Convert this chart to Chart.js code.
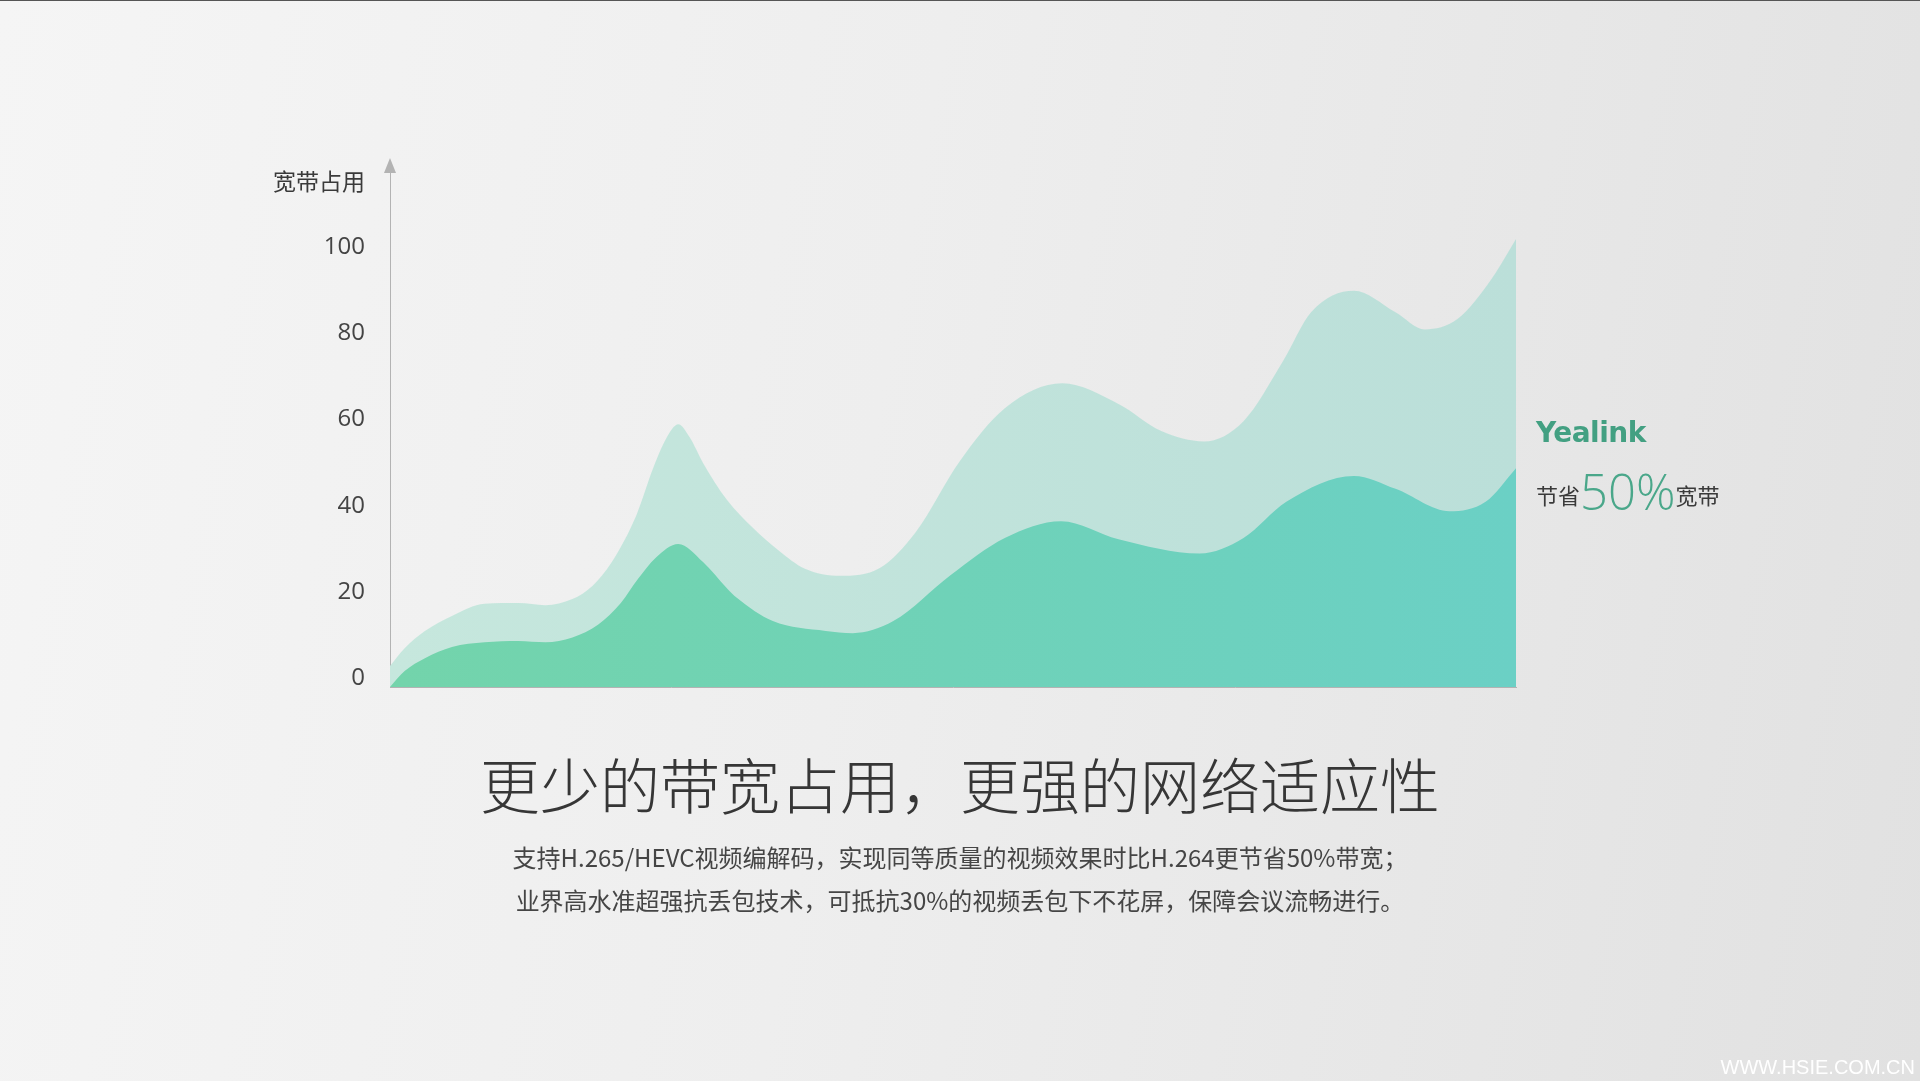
<!DOCTYPE html>
<html>
<head>
<meta charset="utf-8">
<script src="https://cdn.jsdelivr.net/npm/chart.js@4/dist/chart.umd.min.js"></script>
<style>
    html, body { margin: 0; padding: 0; }
    body {
        width: 1920px; height: 1081px; overflow: hidden; position: relative;
        background: linear-gradient(100deg, #f5f5f5 0%, #eeeeee 45%, #e1e1e1 100%);
        font-family: "Noto Sans CJK SC", "Noto Sans", sans-serif;
        border-top: 1px solid #555; box-sizing: border-box;
    }
    #wrap { position: absolute; left: 0; top: 0; width: 1920px; height: 1081px; }
    .txt { position: absolute; white-space: nowrap; }
    #ytitle { right: 1555px; top: 162px; font-size: 23px; color: #3a3a3a; }
    #title { left: 0; width: 1920px; text-align: center; top: 738px; font-size: 60px; font-weight: 300; color: #363636; }
    .sub { left: 0; width: 1920px; text-align: center; font-size: 24px; color: #454545; }
    #logo { left: 1536px; top: 415px; font-family: "DejaVu Sans", sans-serif; font-weight: bold; font-size: 28px; color: #43a082; letter-spacing: -0.5px; }
    #save { left: 1536px; top: 457px; font-size: 22px; color: #3a3a3a; }
    #save b { font-family: "Open Sans", sans-serif; font-weight: 300; font-size: 49px; color: #4aa78a; vertical-align: -6px; }
    #wm { right: 5px; top: 1055px; font-family: "Liberation Sans", Arial, sans-serif; font-size: 20px; color: #ffffff; }
</style>
</head>
<body>
<div id="wrap"><canvas id="bande" width="1920" height="1081"></canvas></div>
<div class="txt" id="ytitle">宽带占用</div>
<div class="txt" id="logo">Yealink</div>
<div class="txt" id="save">节省<b>50%</b>宽带</div>
<div class="txt" id="title">更少的带宽占用，更强的网络适应性</div>
<div class="txt sub" style="top:838px">支持H.265/HEVC视频编解码，实现同等质量的视频效果时比H.264更节省50%带宽；</div>
<div class="txt sub" style="top:881px">业界高水准超强抗丢包技术，可抵抗30%的视频丢包下不花屏，保障会议流畅进行。</div>
<div class="txt" id="wm">WWW.HSIE.COM.CN</div>
<script>
// position le long de l'axe (0 -> 100) et valeurs
const upperX = [0, 1.3, 3.1, 5.5, 8.4, 11.4, 13.8, 16.2, 18, 19.7, 21.9, 23.4, 24.7, 25.6, 26.6, 27.8, 29.9, 32.2, 34.6, 36.8, 40, 43.5, 46.7, 50.6, 54.6, 59.7, 64.7, 68.5, 72.3, 75.8, 79.3, 81.8, 85.6, 89.3, 91.9, 94.8, 97.9, 100];
const upperY = [4.9, 9, 13, 16.5, 19.3, 19.5, 19, 20.4, 23.5, 29, 40, 51, 58.5, 61, 58, 52, 43.5, 37, 31.5, 27.5, 25.8, 27.6, 36, 52.4, 64.7, 70.5, 65.7, 59.4, 57, 61.7, 75.6, 87, 92, 87, 83, 85.4, 95, 104];

const lowerX = [0, 1.3, 3.1, 5.5, 8.4, 11.4, 13.8, 16.2, 18.5, 20.5, 22, 23.6, 25.6, 27.8, 29.9, 30.8, 34, 38.7, 41.1, 44.7, 49.8, 54.6, 59.6, 64.7, 71.9, 75.8, 79.6, 85.6, 89.3, 94.1, 97.3, 100];
const lowerY = [0, 3.7, 6.7, 9.3, 10.4, 10.7, 10.4, 11.5, 14.5, 19.5, 25, 30, 33.2, 29, 23, 20.7, 15.3, 13, 12.5, 15.3, 26, 34.6, 38.5, 34.3, 31, 34.6, 43, 49, 46, 40.8, 43, 50.8];

const yTicks = [0, 20, 40, 60, 80, 100];

function toPoints(xs, ys) {
    return xs.map((x, i) => ({ x: x, y: ys[i] }));
}

// dégradé horizontal sur la zone du graphique
function horizGradient(ctx, c1, c2) {
    const area = ctx.chart.chartArea;
    if (!area) return c1;
    const g = ctx.chart.ctx.createLinearGradient(area.left, 0, area.right, 0);
    g.addColorStop(0, c1);
    g.addColorStop(1, c2);
    return g;
}

// petite flèche en haut de l'axe vertical
const axisArrow = {
    id: 'axisArrow',
    afterDraw(chart) {
        const c = chart.ctx;
        const x = chart.chartArea.left;
        const top = chart.chartArea.top;
        c.save();
        c.fillStyle = '#b3b3b3';
        c.beginPath();
        c.moveTo(x, top - 12);
        c.lineTo(x - 6, top + 3);
        c.lineTo(x + 6, top + 3);
        c.closePath();
        c.fill();
        c.restore();
    }
};

new Chart(
    document.getElementById('bande'),
    {
        type: 'line',
        data: {
            datasets: [
                {
                    label: 'Yealink',
                    data: toPoints(lowerX, lowerY),
                    fill: 'origin',
                    backgroundColor: ctx => horizGradient(ctx, '#73d4ab', '#6bd0c5'),
                    borderWidth: 0,
                    pointRadius: 0,
                    cubicInterpolationMode: 'monotone'
                },
                {
                    label: 'H.264',
                    data: toPoints(upperX, upperY),
                    fill: 'origin',
                    backgroundColor: ctx => horizGradient(ctx, '#c6e7dd', '#bbdfd9'),
                    borderWidth: 0,
                    pointRadius: 0,
                    cubicInterpolationMode: 'monotone'
                }
            ]
        },
        plugins: [axisArrow],
        options: {
            responsive: false,
            animation: false,
            layout: {
                padding: { left: 290, right: 404, top: 169, bottom: 395 }
            },
            plugins: {
                legend: { display: false },
                tooltip: { enabled: false }
            },
            scales: {
                x: {
                    type: 'linear',
                    min: 0,
                    max: 100,
                    ticks: { display: false },
                    grid: { display: false },
                    border: { display: true, color: '#b3b3b3', width: 1 },
                    afterFit: s => { s.height = 0; }
                },
                y: {
                    min: 0,
                    max: 120,
                    afterBuildTicks: s => { s.ticks = yTicks.map(v => ({ value: v })); },
                    ticks: {
                        color: '#444444',
                        padding: 25,
                        labelOffset: -9,
                        font: { family: '"Open Sans", "Noto Sans", sans-serif', size: 24 }
                    },
                    grid: { display: false, drawTicks: false },
                    border: { display: true, color: '#b3b3b3', width: 1 },
                    afterFit: s => { s.width = 100; }
                }
            }
        }
    }
);
</script>
</body>
</html>
